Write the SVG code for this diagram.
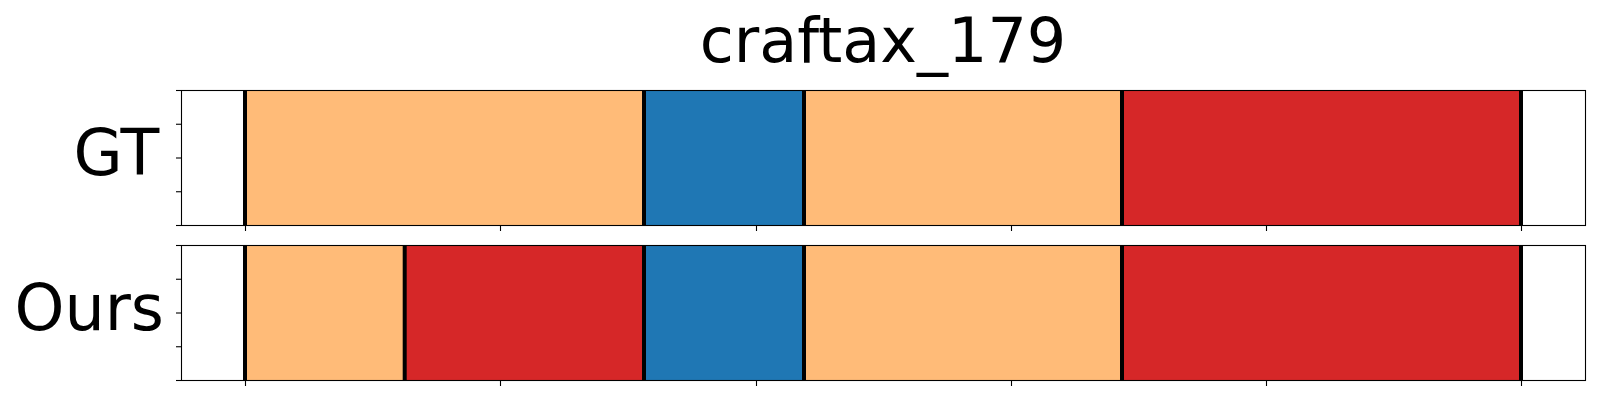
<svg xmlns="http://www.w3.org/2000/svg" width="1600" height="400" viewBox="0 0 1600 400">
  <style>
    .txt { font-family: "DejaVu Sans", "Liberation Sans", sans-serif; fill: #000; }
    .title { font-size: 62px; }
    .lbl { font-size: 63.5px; }
    .frame { fill: none; stroke: #000; stroke-width: 1.1; }
    .tick { stroke: #000; stroke-width: 1.1; }
    .sep { stroke: #000; stroke-width: 4; }
    .orange { fill: #ffbb78; }
    .blue { fill: #1f77b4; }
    .red { fill: #d62728; }
  </style>
  <rect x="0" y="0" width="1600" height="400" fill="#ffffff"/>
  <text id="title" class="txt title" x="883" y="62" text-anchor="middle">craftax_179</text>

  <g id="panel-gt">
    <text class="txt lbl" x="73.5" y="175">GT</text>
    <g id="gt-segments">
      <rect class="orange" x="245" y="90.5" width="399" height="135"/>
      <rect class="blue" x="644" y="90.5" width="160" height="135"/>
      <rect class="orange" x="804" y="90.5" width="318" height="135"/>
      <rect class="red" x="1122" y="90.5" width="399" height="135"/>
    </g>
    <g id="gt-boundaries">
      <line class="sep" x1="245" y1="90.5" x2="245" y2="225.5"/>
      <line class="sep" x1="644" y1="90.5" x2="644" y2="225.5"/>
      <line class="sep" x1="804" y1="90.5" x2="804" y2="225.5"/>
      <line class="sep" x1="1122" y1="90.5" x2="1122" y2="225.5"/>
      <line class="sep" x1="1521" y1="90.5" x2="1521" y2="225.5"/>
    </g>
    <rect class="frame" x="181.5" y="90.5" width="1404" height="135"/>
    <g id="gt-ticks">
      <line class="tick" x1="176" y1="90.5" x2="181.5" y2="90.5"/>
      <line class="tick" x1="176" y1="124.25" x2="181.5" y2="124.25"/>
      <line class="tick" x1="176" y1="158" x2="181.5" y2="158"/>
      <line class="tick" x1="176" y1="191.75" x2="181.5" y2="191.75"/>
      <line class="tick" x1="176" y1="225.5" x2="181.5" y2="225.5"/>
      <line class="tick" x1="245.5" y1="225.5" x2="245.5" y2="231"/>
      <line class="tick" x1="500.5" y1="225.5" x2="500.5" y2="231"/>
      <line class="tick" x1="756.5" y1="225.5" x2="756.5" y2="231"/>
      <line class="tick" x1="1011.5" y1="225.5" x2="1011.5" y2="231"/>
      <line class="tick" x1="1266.5" y1="225.5" x2="1266.5" y2="231"/>
      <line class="tick" x1="1521.5" y1="225.5" x2="1521.5" y2="231"/>
    </g>
  </g>

  <g id="panel-ours">
    <text class="txt lbl" x="14.5" y="330">Ours</text>
    <g id="ours-segments">
      <rect class="orange" x="245" y="245.5" width="159.7" height="135"/>
      <rect class="red" x="404.7" y="245.5" width="239.3" height="135"/>
      <rect class="blue" x="644" y="245.5" width="160" height="135"/>
      <rect class="orange" x="804" y="245.5" width="318" height="135"/>
      <rect class="red" x="1122" y="245.5" width="399" height="135"/>
    </g>
    <g id="ours-boundaries">
      <line class="sep" x1="245" y1="245.5" x2="245" y2="380.5"/>
      <line class="sep" x1="404.7" y1="245.5" x2="404.7" y2="380.5"/>
      <line class="sep" x1="644" y1="245.5" x2="644" y2="380.5"/>
      <line class="sep" x1="804" y1="245.5" x2="804" y2="380.5"/>
      <line class="sep" x1="1122" y1="245.5" x2="1122" y2="380.5"/>
      <line class="sep" x1="1521" y1="245.5" x2="1521" y2="380.5"/>
    </g>
    <rect class="frame" x="181.5" y="245.5" width="1404" height="135"/>
    <g id="ours-ticks">
      <line class="tick" x1="176" y1="245.5" x2="181.5" y2="245.5"/>
      <line class="tick" x1="176" y1="279.25" x2="181.5" y2="279.25"/>
      <line class="tick" x1="176" y1="313" x2="181.5" y2="313"/>
      <line class="tick" x1="176" y1="346.75" x2="181.5" y2="346.75"/>
      <line class="tick" x1="176" y1="380.5" x2="181.5" y2="380.5"/>
      <line class="tick" x1="245.5" y1="380.5" x2="245.5" y2="386"/>
      <line class="tick" x1="500.5" y1="380.5" x2="500.5" y2="386"/>
      <line class="tick" x1="756.5" y1="380.5" x2="756.5" y2="386"/>
      <line class="tick" x1="1011.5" y1="380.5" x2="1011.5" y2="386"/>
      <line class="tick" x1="1266.5" y1="380.5" x2="1266.5" y2="386"/>
      <line class="tick" x1="1521.5" y1="380.5" x2="1521.5" y2="386"/>
    </g>
  </g>
</svg>
